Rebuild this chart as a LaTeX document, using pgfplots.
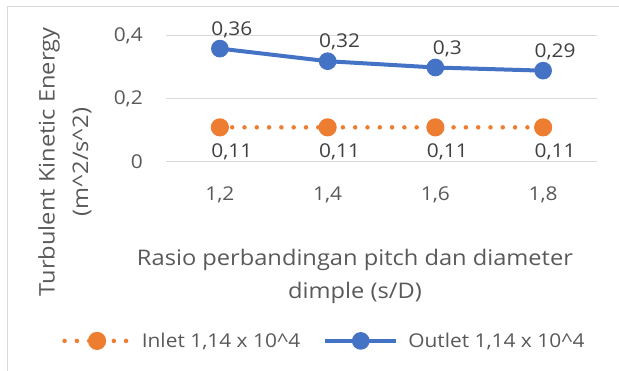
\documentclass[border=0pt]{standalone}
\usepackage{fontspec}
\setmainfont{Open Sans}[FakeStretch=1.1]
\usepackage{pgfplots}
\pgfplotsset{compat=1.18}
\definecolor{txt}{HTML}{595959}
\definecolor{lbl}{HTML}{404040}
\definecolor{gridc}{HTML}{D9D9D9}
\definecolor{inlet}{HTML}{ED7D31}
\definecolor{outlet}{HTML}{4472C4}
\newcommand{\fs}{\fontsize{19}{23}\selectfont}
\newcommand{\ft}{\fontsize{21.5}{33.5}\selectfont}
% legend samples of a given length
\pgfplotsset{
  legsample/.style={legend image code/.code={\draw[mark repeat=2,mark phase=2,##1]
    plot coordinates {(0pt,0pt) (#1/2,0pt) (#1,0pt)};}},
}
\begin{document}
\begin{tikzpicture}[x=1pt,y=1pt]
\useasboundingbox (0,0) rectangle (619,371);
% chart frame
\draw[gridc, line width=1pt] (7,-20) -- (7,364) -- (640,364);
\begin{axis}[
  at={(166pt,209pt)}, anchor=south west,
  scale only axis, width=431pt, height=126pt,
  xmin=0.5, xmax=4.5, ymin=0, ymax=0.4,
  axis line style={draw=none},
  major tick length=0pt,
  xtick={1,2,3,4}, xticklabels={{1,2},{1,4},{1,6},{1,8}},
  ytick={0,0.2,0.4}, yticklabels={0,{0,2},{0,4}},
  ymajorgrids, grid style={gridc, line width=1pt},
  tick label style={font=\fs, text=txt, inner sep=0pt},
  xticklabel style={anchor=center, yshift=-33pt},
  yticklabel style={anchor=east, xshift=-23pt},
  /pgf/number format/assume math mode=true,
  clip=false,
  xlabel={Rasio perbandingan pitch dan diameter\\dimple (s/D)},
  xlabel style={at={(axis description cs:0.4385,-0.909)}, anchor=center,
    align=center, font=\ft, text=txt},
  ylabel={Turbulent Kinetic Energy\\(m\textasciicircum 2/s\textasciicircum 2)},
  ylabel style={at={(axis description cs:-0.2343,0)}, anchor=center,
    align=center, font=\ft, text=txt},
  nodes near coords={\pgfmathprintnumber[fixed,precision=2,use comma]{\pgfplotspointmeta}},
  every node near coord/.append style={font=\fs, text=lbl, anchor=center, xshift=12pt},
  legend columns=2,
  legend cell align=left,
  legend style={at={(axis description cs:-0.241,-1.42)}, anchor=west,
    draw=none, fill=none, font=\fs, text=txt, inner sep=0pt,
    nodes={inner sep=0pt},
    /tikz/every odd column/.append style={column sep=10pt},
    /tikz/every even column/.append style={column sep=23pt}},
]
\addplot[inlet, line width=4.5pt, line cap=round, dash pattern=on 0pt off 12.3pt,
  mark=*, mark size=6.8pt, mark options={solid, fill=inlet, draw=none},
  every node near coord/.append style={yshift=-24pt},
  legsample=65pt]
  coordinates {(1,0.11) (2,0.11) (3,0.11) (4,0.11)};
\addlegendentry{Inlet 1,14 x 10\textasciicircum 4}
\addplot[outlet, line width=4pt, mark=*, mark size=6.8pt,
  mark options={fill=outlet, draw=none},
  every node near coord/.append style={yshift=19pt},
  legsample=71pt]
  coordinates {(1,0.36) (2,0.32) (3,0.30) (4,0.29)};
\addlegendentry{Outlet 1,14 x 10\textasciicircum 4}
\end{axis}
\end{tikzpicture}
\end{document}
